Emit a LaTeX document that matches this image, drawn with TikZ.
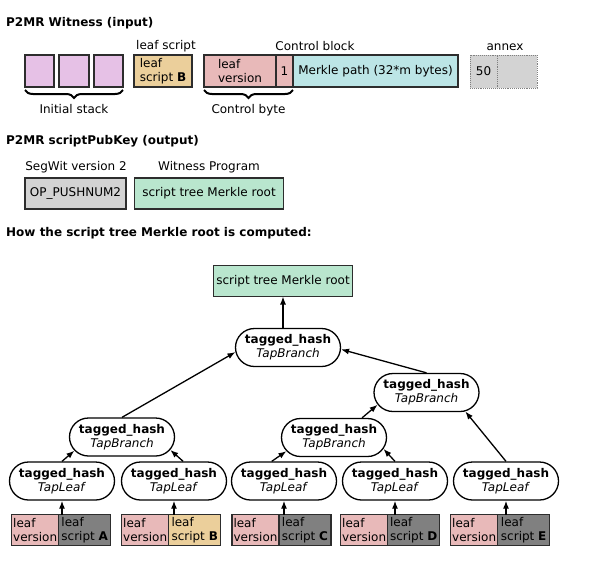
\documentclass[tikz,border=0pt]{standalone}
\usepackage{fontspec}
\setmainfont{DejaVu Sans}
\usetikzlibrary{positioning,shapes.misc,decorations.pathreplacing,arrows.meta}
\definecolor{stackPink}{RGB}{230,193,230}
\definecolor{scriptTan}{RGB}{235,207,155}
\definecolor{versionPink}{RGB}{232,185,185}
\definecolor{pathCyan}{RGB}{188,229,230}
\definecolor{annexGray}{RGB}{211,211,211}
\definecolor{rootMint}{RGB}{185,230,206}
\definecolor{scriptGray}{RGB}{128,128,128}
\definecolor{cellBorder}{RGB}{45,45,45}

\begin{document}
\begin{tikzpicture}[x=1pt, y=-1pt, font=\fontsize{12}{14}\selectfont,
    cell/.style={draw=cellBorder, line width=1.3pt, inner sep=1pt, outer sep=0pt, minimum height=32pt, align=left},
    annexcell/.style={draw=gray, densely dotted, line width=0.9pt, fill=annexGray, inner sep=1pt, outer sep=0pt, minimum height=33pt},
    hashnode/.style={draw, rounded rectangle, line width=1.3pt, minimum width=107pt, minimum height=38pt, inner sep=1pt, align=center},
    arrow/.style={-{Latex[length=8pt,width=6pt]}, line width=1.3pt},
    curly/.style={decorate, decoration={brace, mirror, amplitude=8pt}, line width=2pt},
    title/.style={anchor=west, inner sep=0pt, font=\fontsize{12}{14}\selectfont\bfseries}]
    \useasboundingbox (0,0) rectangle (592,587);

    % witness
    \node[title] (witTitle) at (6,23) {P2MR Witness (input)};
    \node[cell, fill=stackPink, minimum width=29pt] (stack1) at (39.5,71) {};
    \node[cell, fill=stackPink, minimum width=30pt] (stack2) at (74,71) {};
    \node[cell, fill=stackPink, minimum width=29pt] (stack3) at (108.5,71) {};
    \draw[curly] ([yshift=-3pt]stack1.south west) -- ([yshift=-3pt]stack3.south east) node[midway, below=10pt] (stackLabel) {Initial stack};

    \node (witScriptLabel) at (166,46) {leaf script};
    \node[cell, fill=scriptTan, minimum width=58pt] (witScript) at (163,71) {leaf\\script \textbf{B}};

    \node (ctrlLabel) at (315,46) {Control block};
    \node[cell, fill=versionPink, minimum width=72pt] (witVersion) at (240,71) {leaf\\version};
    \node[cell, fill=versionPink, minimum width=17pt, align=center, right=0pt of witVersion] (witByte) {1};
    \node[cell, fill=pathCyan, minimum width=165pt, align=center, right=0pt of witByte] (merklePath) {Merkle path (32*m bytes)};
    \draw[curly] ([yshift=-3pt]witVersion.south west) -- ([yshift=-3pt]witByte.south east) node[midway, below=10pt] (ctrlByteLabel) {Control byte};

    \node (annexLabel) at (505,47) {annex};
    \node[annexcell, minimum width=27pt] (annexTag) at (483.5,71.5) {50};
    \node[annexcell, minimum width=40pt, right=0pt of annexTag] (annexData) {};

    % scriptPubKey
    \node[title] (spkTitle) at (6,141) {P2MR scriptPubKey (output)};
    \node (segwitLabel) at (76,167) {SegWit version 2};
    \node[cell, fill=annexGray, minimum width=101pt, minimum height=31pt, align=center] (opPush) at (75.5,193.5) {OP\_PUSHNUM2};
    \node (progLabel) at (209,167) {Witness Program};
    \node[cell, fill=rootMint, minimum width=149pt, minimum height=31pt, align=center] (progRoot) at (209,193.5) {script tree Merkle root};

    % merkle tree
    \node[title] (treeTitle) at (6,233) {How the script tree Merkle root is computed:};
    \node[cell, fill=rootMint, minimum width=139pt, minimum height=31pt, align=center] (treeRoot) at (283,281) {script tree Merkle root};

    \node[hashnode] (branchTop) at (288,347.5) {\textbf{tagged\_hash}\\\textit{TapBranch}};
    \node[hashnode] (branchE) at (426.5,392.5) {\textbf{tagged\_hash}\\\textit{TapBranch}};
    \node[hashnode] (branchAB) at (122,437) {\textbf{tagged\_hash}\\\textit{TapBranch}};
    \node[hashnode] (branchCD) at (334,437.5) {\textbf{tagged\_hash}\\\textit{TapBranch}};

    \node[hashnode] (leafA) at (62,481) {\textbf{tagged\_hash}\\\textit{TapLeaf}};
    \node[hashnode] (leafB) at (174,481) {\textbf{tagged\_hash}\\\textit{TapLeaf}};
    \node[hashnode] (leafC) at (284,481) {\textbf{tagged\_hash}\\\textit{TapLeaf}};
    \node[hashnode] (leafD) at (395,481) {\textbf{tagged\_hash}\\\textit{TapLeaf}};
    \node[hashnode] (leafE) at (506,481) {\textbf{tagged\_hash}\\\textit{TapLeaf}};

    \node[cell, fill=versionPink, minimum width=47pt, minimum height=31pt] (verA) at (35.2,530) {leaf\\version};
    \node[cell, fill=scriptGray, minimum width=52pt, minimum height=31pt, right=0pt of verA] (scrA) {leaf\\script \textbf{A}};
    \node[cell, fill=versionPink, minimum width=47pt, minimum height=31pt] (verB) at (145.2,530) {leaf\\version};
    \node[cell, fill=scriptTan, minimum width=52pt, minimum height=31pt, right=0pt of verB] (scrB) {leaf\\script \textbf{B}};
    \node[cell, fill=versionPink, minimum width=47pt, minimum height=31pt] (verC) at (255.5,530) {leaf\\version};
    \node[cell, fill=scriptGray, minimum width=52pt, minimum height=31pt, right=0pt of verC] (scrC) {leaf\\script \textbf{C}};
    \node[cell, fill=versionPink, minimum width=47pt, minimum height=31pt] (verD) at (364.2,530) {leaf\\version};
    \node[cell, fill=scriptGray, minimum width=52pt, minimum height=31pt, right=0pt of verD] (scrD) {leaf\\script \textbf{D}};
    \node[cell, fill=versionPink, minimum width=47pt, minimum height=31pt] (verE) at (474.2,530) {leaf\\version};
    \node[cell, fill=scriptGray, minimum width=52pt, minimum height=31pt, right=0pt of verE] (scrE) {leaf\\script \textbf{E}};

    \draw[arrow] (leafA.south |- scrA.north) -- (leafA.south);
    \draw[arrow] (leafB.south |- scrB.north) -- (leafB.south);
    \draw[arrow] (leafC.south |- scrC.north) -- (leafC.south);
    \draw[arrow] (leafD.south |- scrD.north) -- (leafD.south);
    \draw[arrow] (leafE.south |- scrE.north) -- (leafE.south);

    \draw[arrow] (leafA.north) -- (branchAB.196);
    \draw[arrow] (leafB.65) -- (branchAB.345);
    \draw[arrow] (leafC.122) -- (branchCD.196);
    \draw[arrow] (leafD.north) -- (branchCD.347);
    \draw[arrow] (branchCD.35) -- (branchE.194);
    \draw[arrow] (leafE.north) -- (branchE.334);
    \draw[arrow] (branchAB.north) -- (branchTop.185);
    \draw[arrow] (branchE.north) -- (branchTop.358);
    \draw[arrow] (branchTop.north -| treeRoot.south) -- (treeRoot.south);
\end{tikzpicture}
\end{document}
